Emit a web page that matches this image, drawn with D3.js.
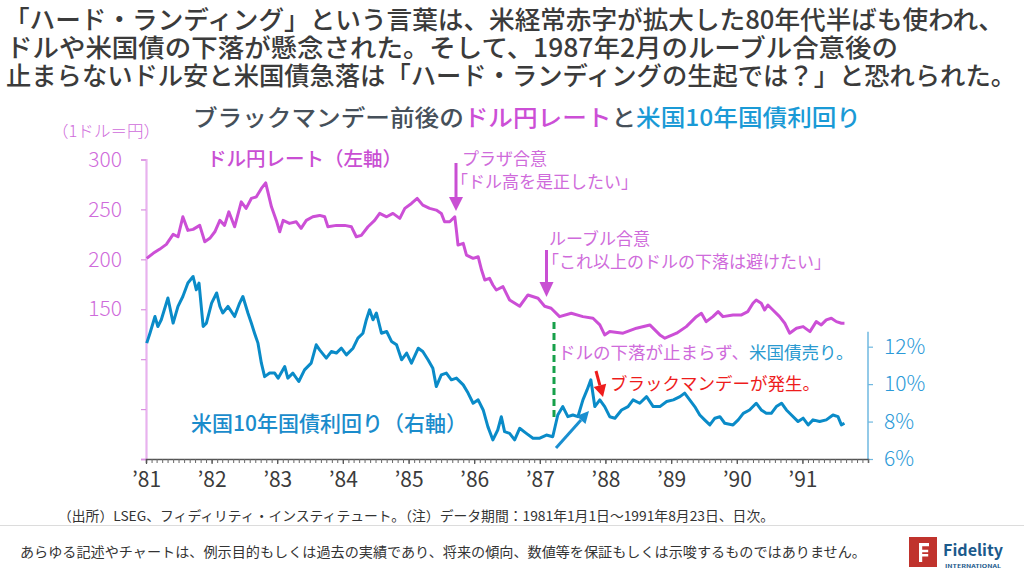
<!DOCTYPE html>
<html><head><meta charset="utf-8">
<script src="https://cdn.jsdelivr.net/npm/d3@7"></script>
<style>
body{margin:0;background:#fff}
svg{display:block}
text{font-family:"Noto Sans CJK JP","Noto Sans",sans-serif}
</style>
</head><body>
<svg id="chart" width="1024" height="576"></svg>
<script>
// ---------------- DATA ----------------
const yenDates = [
 "1981-01-05","1981-02-10","1981-03-17","1981-04-24","1981-06-01","1981-06-28","1981-07-25","1981-08-22","1981-09-20","1981-10-27","1981-11-24","1981-12-22",
 "1982-01-19","1982-02-16","1982-03-14","1982-04-07","1982-05-09","1982-06-15","1982-07-12","1982-08-10","1982-09-07","1982-10-05","1982-10-29","1982-11-30","1982-12-27",
 "1983-01-15","1983-02-03","1983-03-10","1983-04-17","1983-05-14","1983-06-12","1983-07-18","1983-08-25","1983-09-22","1983-10-10","1983-11-26",
 "1984-01-12","1984-02-18","1984-03-16","1984-04-13","1984-05-20","1984-06-26","1984-07-24","1984-09-01","1984-10-06","1984-11-13","1984-12-11",
 "1985-01-17","1985-02-18","1985-03-21","1985-04-28","1985-06-04","1985-07-02","1985-07-20","1985-08-18","1985-09-15","1985-09-24","1985-10-03","1985-11-01","1985-11-19","1985-12-26",
 "1986-01-23","1986-02-11","1986-03-01","1986-03-27","1986-04-15","1986-05-04","1986-06-10","1986-07-17","1986-09-11","1986-10-27","1986-12-22",
 "1987-01-28","1987-03-05","1987-04-21","1987-06-25","1987-08-29","1987-10-24","1987-12-01","1987-12-28",
 "1988-01-25","1988-04-08","1988-06-22","1988-09-04","1988-10-30","1988-11-27",
 "1989-01-31","1989-03-26","1989-05-21","1989-06-18","1989-07-15","1989-08-21","1989-09-19","1989-10-16","1989-12-11",
 "1990-01-27","1990-03-03","1990-04-01","1990-04-19","1990-05-17","1990-06-05","1990-06-23","1990-07-21","1990-08-27","1990-09-25","1990-10-22","1990-11-29",
 "1991-01-05","1991-02-12","1991-03-19","1991-04-16","1991-05-14","1991-06-11","1991-07-09","1991-08-06","1991-08-23"
];
const yenValues = [
 201,206,210,215,225,222.6,242.6,229,230,234,217.6,221,
 227.6,239,234,247.6,232.6,257.6,251,261,262.6,271,276.6,252.6,239,
 227.6,239,236,237.6,231,239,242.6,244,242.6,232.6,234,
 234,232.6,222.6,224,232.6,239,246,242.6,246,241,251,
 256,261,254.3,251,249.3,246,237.6,237.6,242.6,229,214.3,216,204.3,201,
 202.6,189.3,179.3,181,174.3,169.3,172.6,159.3,153,164.3,161,
 153,151,142.6,146,142.6,141,134.3,124.3,
 127.6,126,131,134.3,124.3,121,
 126,132.6,142.6,146,137.6,142.6,147.6,142.6,144.3,
 144.3,147.6,156,159.3,156,149.3,154.3,149.3,142.6,136,126,131,
 132.6,127.6,137.6,134.3,139.3,141,137.6,136,136
];
const yieldDates = [
 "1981-01-05","1981-01-23","1981-02-20","1981-03-08","1981-03-27","1981-05-03","1981-06-01","1981-06-28","1981-07-25","1981-08-22","1981-09-20","1981-10-08","1981-10-23","1981-11-15","1981-12-03",
 "1982-01-01","1982-01-29","1982-02-16","1982-03-04","1982-04-02","1982-05-09","1982-06-06","1982-06-24","1982-07-22","1982-08-10","1982-08-28","1982-09-16","1982-10-05","1982-10-23","1982-11-20","1982-12-18",
 "1983-01-06","1983-02-12","1983-03-01","1983-03-29","1983-05-01","1983-06-02","1983-07-09","1983-08-06","1983-08-25","1983-10-01","1983-10-29","1983-11-26","1983-12-24",
 "1984-01-21","1984-02-27","1984-03-25","1984-04-22","1984-05-11","1984-05-29","1984-06-17","1984-07-06","1984-08-03","1984-09-01","1984-09-28","1984-10-26","1984-11-23","1984-12-21",
 "1985-01-17","1985-02-24","1985-03-21","1985-04-19","1985-05-16","1985-06-04","1985-07-02","1985-07-30","1985-08-27","1985-09-24","1985-11-01","1985-11-28","1985-12-26",
 "1986-01-23","1986-02-20","1986-03-18","1986-04-15","1986-05-12","1986-06-01","1986-06-19","1986-07-17","1986-08-14","1986-09-11","1986-10-18","1986-11-24",
 "1987-01-01","1987-02-07","1987-03-14","1987-04-11","1987-05-09","1987-06-06","1987-07-04","1987-08-01","1987-08-29","1987-09-21","1987-10-12","1987-11-03","1987-12-01","1987-12-28",
 "1988-01-25","1988-02-23","1988-03-31","1988-05-06","1988-06-03","1988-07-10","1988-08-17","1988-09-23","1988-10-30","1988-12-07",
 "1989-01-13","1989-02-19","1989-03-17","1989-04-14","1989-05-12","1989-06-09","1989-07-06","1989-08-04","1989-09-01","1989-09-29","1989-10-26","1989-12-11",
 "1990-01-09","1990-02-06","1990-03-13","1990-04-19","1990-05-17","1990-06-14","1990-07-12","1990-08-09","1990-09-07","1990-10-04","1990-11-01","1990-12-08",
 "1991-01-05","1991-02-02","1991-03-01","1991-04-07","1991-05-14","1991-06-20","1991-07-18","1991-08-06","1991-08-23"
];
const yieldValues = [
 12.19,12.72,13.61,13.08,13.44,14.60,13.26,14.15,14.68,15.40,15.75,15.04,15.40,13.08,13.26,
 14.33,14.87,14.15,13.80,14.15,13.61,14.33,14.68,13.80,13.26,12.72,12.19,11.12,10.40,10.59,10.59,
 10.32,10.94,10.32,10.59,10.14,10.76,11.12,12.10,11.83,11.39,11.74,11.66,11.92,
 11.56,11.92,12.46,12.72,13.44,13.97,13.44,13.80,12.72,12.81,12.28,12.10,11.30,11.66,
 11.12,11.92,11.74,11.30,10.85,9.87,10.49,10.59,10.23,10.32,9.96,9.52,8.98,
 9.16,8.62,7.73,7.02,7.55,8.26,7.46,7.37,7.02,7.64,7.37,7.11,
 7.11,7.28,7.19,8.35,8.80,8.26,8.35,8.26,9.16,9.69,10.23,8.80,9.16,8.80,
 8.26,8.18,8.62,8.80,9.16,8.98,9.33,8.80,8.80,9.07,
 9.16,9.33,9.52,9.16,8.80,8.35,8.09,7.82,8.18,8.26,7.91,7.82,
 8.09,8.44,8.62,8.98,8.62,8.44,8.44,8.80,8.98,8.62,8.35,8.00,
 8.18,7.82,8.09,8.00,8.09,8.35,8.26,7.82,7.91
];
const yearLabels = ["1981","1982","1983","1984","1985","1986","1987","1988","1989","1990","1991"];
const leftTicks = [0,50,100,150,200,250,300];
const leftLabelled = [150,200,250,300];
const rightTicks = [6,8,10,12];

// ---------------- SETUP ----------------
const svg = d3.select("#chart");
const parse = d3.timeParse("%Y-%m-%d");
const yen = yenDates.map((d,i)=>({date:parse(d), v:yenValues[i]}));
const yld = yieldDates.map((d,i)=>({date:parse(d), v:yieldValues[i]}));

const MAG = "#cc4fd6", MAGL = "#cf6bdb", BLUE = "#0a8bc8", BLUEL = "#2b9ad8", GRAY = "#3b3b3b";

const x = d3.scaleTime().domain([new Date(1981,0,1), new Date(1992,0,1)]).range([146, 868]);
const yL = d3.scaleLinear().domain([0,300]).range([459,159.5]);
const yR = d3.scaleLinear().domain([6,22]).range([459,159.5]);

function txt(str, x0, y0, size, color, opts={}) {
  const t = svg.append("text").attr("x",x0).attr("y",y0)
    .attr("font-size",size).attr("fill",color).text(str);
  if (opts.anchor) t.attr("text-anchor",opts.anchor);
  if (opts.weight) t.attr("font-weight",opts.weight);
  if (opts.len) t.attr("textLength",opts.len).attr("lengthAdjust","spacingAndGlyphs");
  return t;
}

// ---------------- TITLE ----------------
txt("「ハード・ランディング」という言葉は、米経常赤字が拡大した80年代半ばも使われ、", 4, 29, 25.5, GRAY, {weight:500, len:1000});
txt("ドルや米国債の下落が懸念された。そして、1987年2月のルーブル合意後の", 6, 57, 25.5, GRAY, {weight:500, len:892});
txt("止まらないドル安と米国債急落は「ハード・ランディングの生起では？」と恐れられた。", 6, 85, 25.5, GRAY, {weight:500, len:1010});

const sub = svg.append("text").attr("x",193).attr("y",126).attr("font-size",23).attr("font-weight",500)
  .attr("textLength",668).attr("lengthAdjust","spacingAndGlyphs");
sub.append("tspan").attr("fill","#46505a").text("ブラックマンデー前後の");
sub.append("tspan").attr("fill",MAG).text("ドル円レート");
sub.append("tspan").attr("fill","#46505a").text("と");
sub.append("tspan").attr("fill","#1a9ad6").text("米国10年国債利回り");

// ---------------- AXES ----------------
const gL = svg.append("g").attr("transform","translate(146,0)")
  .call(d3.axisLeft(yL).tickValues(leftTicks).tickSize(5).tickPadding(19)
    .tickFormat(d => leftLabelled.includes(d) ? d : ""));
gL.select(".domain").attr("stroke","#e8b2ee").attr("stroke-width",2.2);
gL.selectAll(".tick line").attr("stroke","#d98fe0").attr("stroke-width",1.2);
gL.selectAll(".tick text").attr("fill",MAGL).attr("font-size",21).attr("font-family","'Noto Sans CJK JP',sans-serif").attr("font-weight",300);
txt("（1ドル＝円）", 52, 137, 16, MAGL, {weight:300, len:108});

const gR = svg.append("g").attr("transform","translate(868,0)")
  .call(d3.axisRight(yR).tickValues(rightTicks).tickSize(5).tickPadding(11).tickFormat(d => d + "%"));
gR.select(".domain").remove();
gR.append("line").attr("x1",0).attr("x2",0).attr("y1",yR(6)).attr("y2",yR(12.8))
  .attr("stroke","#6fb8e0").attr("stroke-width",1.5);
gR.selectAll(".tick line").attr("stroke","#6fb8e0").attr("stroke-width",1.2);
gR.selectAll(".tick text").attr("fill",BLUEL).attr("font-size",21).attr("font-family","'Noto Sans CJK JP',sans-serif").attr("font-weight",300);

const gB = svg.append("g").attr("transform","translate(0,459)")
  .call(d3.axisBottom(x).ticks(d3.timeMonth.every(1)).tickSize(4).tickFormat(""));
gB.select(".domain").attr("stroke","#555").attr("stroke-width",1.5);
gB.selectAll(".tick line").attr("stroke","#666").attr("stroke-width",1);
const gY = svg.append("g").attr("transform","translate(0,459)")
  .call(d3.axisBottom(x).tickValues(yearLabels.map(y=>parse(y+"-01-01"))).tickSize(5).tickPadding(8)
    .tickFormat(d3.timeFormat("’%y")));
gY.select(".domain").remove();
gY.selectAll(".tick line").attr("stroke","#555").attr("stroke-width",1.2);
gY.selectAll(".tick text").attr("fill",GRAY).attr("font-size",21).attr("font-family","'Noto Sans CJK JP',sans-serif").attr("font-weight",400);

// ---------------- LINES ----------------
svg.append("path").datum(yen)
  .attr("fill","none").attr("stroke",MAG).attr("stroke-width",3).attr("stroke-linejoin","round")
  .attr("d", d3.line().x(d=>x(d.date)).y(d=>yL(d.v)));
svg.append("path").datum(yld)
  .attr("fill","none").attr("stroke",BLUE).attr("stroke-width",3).attr("stroke-linejoin","round")
  .attr("d", d3.line().x(d=>x(d.date)).y(d=>yR(d.v)));

// ---------------- LABELS & ANNOTATIONS ----------------
txt("ドル円レート（左軸）", 207, 166, 19.5, "#c94fd3", {weight:500});
txt("米国10年国債利回り（右軸）", 191, 431, 21, "#1a8ccc", {weight:500});

txt("プラザ合意", 462, 165, 17, MAGL);
txt("「ドル高を是正したい」", 451, 188, 17, MAGL);
txt("ルーブル合意", 549, 245, 17, MAGL);
txt("「これ以上のドルの下落は避けたい」", 542, 268, 17, MAGL);

function arrow(x1,y1,x2,y2,color,w,hl,hw){
  const ang = Math.atan2(y2-y1,x2-x1);
  const bx = x2 - hl*Math.cos(ang), by = y2 - hl*Math.sin(ang);
  svg.append("line").attr("x1",x1).attr("y1",y1).attr("x2",bx).attr("y2",by)
    .attr("stroke",color).attr("stroke-width",w);
  const px = -Math.sin(ang)*hw/2, py = Math.cos(ang)*hw/2;
  svg.append("path").attr("d",`M${x2},${y2}L${bx+px},${by+py}L${bx-px},${by-py}Z`).attr("fill",color);
}
arrow(456,163,456,211,"#c94fd3",3,14,14);
arrow(546.5,250,546.5,297,"#c94fd3",3,15,14);

svg.append("line").attr("x1",554).attr("x2",554).attr("y1",322).attr("y2",418)
  .attr("stroke","#17a04a").attr("stroke-width",3).attr("stroke-dasharray","7,4");

const t1 = svg.append("text").attr("x",558).attr("y",359).attr("font-size",17.5);
t1.append("tspan").attr("fill",MAGL).text("ドルの下落が止まらず、");
t1.append("tspan").attr("fill","#2a9ad0").text("米国債売り。");

arrow(596,371,603,397,"#ee1c1c",3,12,13);
txt("ブラックマンデーが発生。", 610, 390, 17.5, "#ee1c1c");
arrow(556,448,589,411,"#1a8fd0",3,12,12);

// ---------------- FOOTER ----------------
txt("（出所）LSEG、フィディリティ・インスティテュート。（注）データ期間：1981年1月1日～1991年8月23日、日次。", 58, 521, 13.5, "#333", {len:716});
svg.append("line").attr("x1",0).attr("x2",1024).attr("y1",525.5).attr("y2",525.5).attr("stroke","#dcdcdc").attr("stroke-width",1);
txt("あらゆる記述やチャートは、例示目的もしくは過去の実績であり、将来の傾向、数値等を保証もしくは示唆するものではありません。", 20, 557, 13.5, "#333", {len:846});

// logo
svg.append("rect").attr("x",909).attr("y",537).attr("width",28).attr("height",30).attr("fill","#c0332d");
svg.append("path").attr("d","M919,543h10v3.2h-6.8v3.5h6v2.6h-6v1.6h6v2.6h-6v5.5h-3.2z").attr("fill","#fff");
txt("Fidelity", 943, 556, 16, "#1b5a8c", {weight:700, len:60});
txt("INTERNATIONAL", 945, 568, 4.5, "#1b5a8c", {weight:700, len:56});
</script>
</body></html>
